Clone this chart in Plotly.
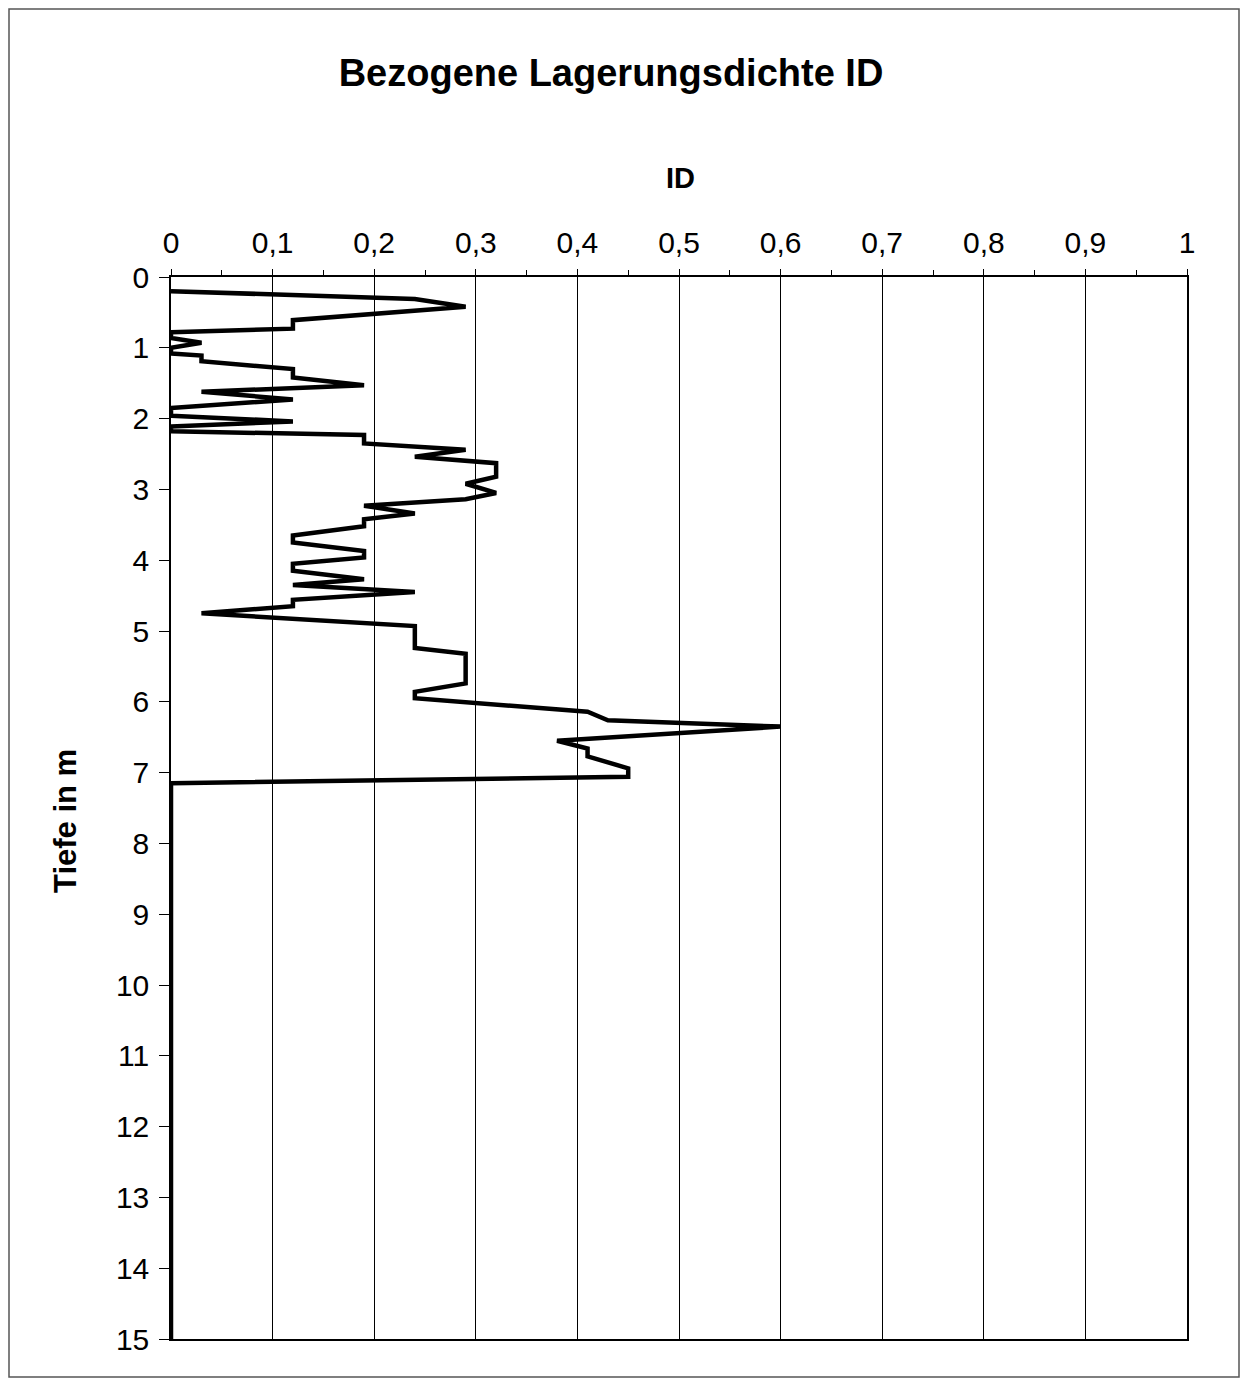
import plotly.graph_objects as go

# ---- data ----
depth_m = [0.20, 0.31, 0.42, 0.61, 0.73, 0.78, 0.86, 0.93, 1.00, 1.08, 1.11, 1.19,
           1.30, 1.42, 1.53, 1.62, 1.73, 1.85, 1.96, 2.04, 2.11, 2.18, 2.23, 2.35,
           2.44, 2.54, 2.63, 2.82, 2.92, 3.05, 3.14, 3.23, 3.34, 3.42, 3.52, 3.65,
           3.75, 3.87, 3.96, 4.05, 4.15, 4.27, 4.35, 4.45, 4.56, 4.65, 4.75, 4.93,
           5.24, 5.32, 5.74, 5.86, 5.95, 6.14, 6.26, 6.35, 6.55, 6.66, 6.77, 6.94,
           7.06, 7.15, 15.0]
id_values = [0, 0.24, 0.29, 0.12, 0.12, 0, 0, 0.03, 0, 0, 0.03, 0.03,
             0.12, 0.12, 0.19, 0.03, 0.12, 0, 0, 0.12, 0, 0, 0.19, 0.19,
             0.29, 0.24, 0.32, 0.32, 0.29, 0.32, 0.29, 0.19, 0.24, 0.19, 0.19, 0.12,
             0.12, 0.19, 0.19, 0.12, 0.12, 0.19, 0.12, 0.24, 0.12, 0.12, 0.03, 0.24,
             0.24, 0.29, 0.29, 0.24, 0.24, 0.41, 0.43, 0.60, 0.38, 0.41, 0.41, 0.45,
             0.45, 0, 0]

x_tickvals = [0, 0.1, 0.2, 0.3, 0.4, 0.5, 0.6, 0.7, 0.8, 0.9, 1]
x_ticktext = ["0", "0,1", "0,2", "0,3", "0,4", "0,5", "0,6", "0,7", "0,8", "0,9", "1"]
y_tickvals = list(range(0, 16))
y_ticktext = [str(v) for v in y_tickvals]

TITLE = "Bezogene Lagerungsdichte ID"
X_TITLE = "ID"
Y_TITLE = "Tiefe in m"

# page has an 8px body margin; work in page pixels and convert
OFF = 8
PAGE_W, PAGE_H = 1248, 1386
W, H = PAGE_W - 2 * OFF, PAGE_H - 2 * OFF
PLOT_L, PLOT_R, PLOT_T, PLOT_B = 171, 1187, 277, 1339   # page px
L = PLOT_L - OFF
R = W - (PLOT_R - OFF)
T = PLOT_T - OFF
B = H - (PLOT_B - OFF)
pw, ph = W - L - R, H - T - B

def paper_x(px):
    return (px - OFF - L) / pw

def paper_y(py):
    return (H - B - (py - OFF)) / ph

FONT = "Liberation Sans, Arial, sans-serif"

fig = go.Figure()
fig.add_trace(go.Scatter(
    x=id_values, y=depth_m, mode="lines",
    line=dict(color="black", width=4.5),
    showlegend=False, hoverinfo="skip",
))

fig.update_layout(
    width=W, height=H,
    margin=dict(l=L, r=R, t=T, b=B, pad=0),
    paper_bgcolor="white", plot_bgcolor="white",
    separators=", ",
    font=dict(family=FONT, color="black", size=30),
    title=dict(text="<b>" + TITLE + "</b>", x=(611 - OFF) / W, xanchor="center",
               y=1 - (73 - OFF) / H, yanchor="middle", yref="container",
               font=dict(size=38, family=FONT, color="black")),
    xaxis=dict(
        side="top", range=[0, 1], tickvals=x_tickvals, ticktext=x_ticktext,
        showgrid=True, gridcolor="black", gridwidth=1,
        showline=True, linecolor="black", linewidth=1.5, mirror=True,
        ticks="outside", ticklen=6, tickcolor="black",
        minor=dict(tickvals=[v + 0.05 for v in x_tickvals[:-1]], ticks="outside",
                   ticklen=5, tickcolor="black", showgrid=False),
        tickfont=dict(size=30, family=FONT),
        ticklabelstandoff=4,
        zeroline=False,
    ),
    yaxis=dict(
        range=[15, 0], tickvals=y_tickvals, ticktext=y_ticktext,
        showgrid=False, showline=True, linecolor="black", linewidth=1.5, mirror=True,
        ticks="outside", ticklen=10, tickcolor="black",
        tickfont=dict(size=30, family=FONT), zeroline=False,
        ticklabelstandoff=4,
    ),
    annotations=[
        dict(text="<b>" + X_TITLE + "</b>", xref="paper", yref="paper",
             x=paper_x(680), y=paper_y(178), xanchor="center", yanchor="middle",
             showarrow=False, font=dict(size=29, family=FONT, color="black")),
        dict(text="<b>" + Y_TITLE + "</b>", xref="paper", yref="paper",
             x=paper_x(65), y=paper_y(821), xanchor="center", yanchor="middle",
             textangle=-90, showarrow=False,
             font=dict(size=31, family=FONT, color="black")),
    ],
    shapes=[dict(type="rect", xref="paper", yref="paper",
                 x0=paper_x(9), x1=paper_x(1239),
                 y0=paper_y(1377), y1=paper_y(9),
                 line=dict(color="#555555", width=1.5), layer="below")],
)

fig.write_html("out.html")
